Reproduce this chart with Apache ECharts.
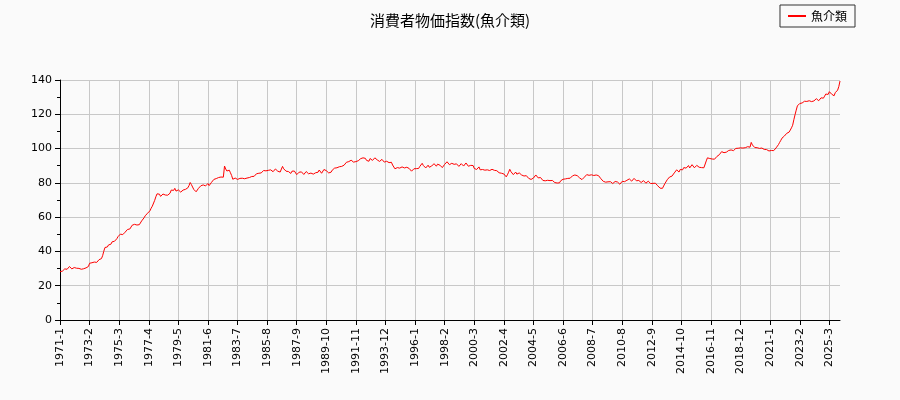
<!DOCTYPE html>
<html><head><meta charset="utf-8">
<script src="https://cdn.jsdelivr.net/npm/echarts@6/dist/echarts.min.js"></script>
<style>html,body{margin:0;background:#fafafa}#c{width:900px;height:400px}</style>
</head><body><div id="c"></div>
<script>
const startYear = 1971;
const yearlyValues = [
[28.2,27.6,28.5,29.1,29.8,30.4,29.6,30.1,31.2,30.3,29.8,30.0],
[30.6,29.8,30.2,29.7,30.1,29.9,29.6,30.0,29.9,30.1,30.4,30.2],
[31.2,33.1,32.6,33.4,33.0,33.8,34.1,33.6,34.5,35.2,36.0,35.8],
[37.5,40.1,42.3,43.0,42.6,43.8,44.5,44.2,45.6,46.3,45.9,47.0],
[47.4,48.6,49.3,50.1,49.6,49.8,50.4,51.2,51.9,52.8,53.4,53.1],
[54.0,55.3,54.6,55.8,56.2,55.4,55.9,55.6,56.1,57.8,58.9,59.6],
[60.8,61.4,62.3,63.0,63.7,65.2,66.4,67.5,69.8,71.9,73.6,72.8],
[73.4,72.1,72.8,73.5,73.0,72.9,73.2,72.8,73.4,74.0,75.8,76.9],
[75.6,76.8,75.2,74.3,75.9,76.4,74.6,75.1,75.8,74.9,76.2,75.5],
[77.1,78.4,80.2,79.0,77.6,76.2,75.4,74.8,75.9,76.8,77.5,78.3],
[77.6,78.8,79.1,78.2,78.9,79.6,78.4,78.9,80.3,81.2,82.0,81.6],
[82.5,82.0,83.1,82.6,83.4,82.9,83.3,89.8,88.1,86.9,86.2,87.4],
[85.9,84.3,82.1,81.6,82.8,82.3,82.0,81.5,82.6,83.1,82.7,83.0],
[82.4,83.2,82.8,83.9,83.1,82.6,83.7,84.2,83.8,84.9,85.3,84.6],
[85.6,86.3,85.8,86.9,87.2,86.4,87.0,86.7,87.3,86.8,87.6,87.1],
[86.5,87.4,88.1,87.2,86.8,87.5,86.3,86.9,89.6,88.2,87.4,86.8],
[87.3,86.6,86.1,85.5,86.8,87.4,86.9,85.9,84.8,85.6,86.2,87.0],
[86.4,85.7,84.9,85.8,86.6,86.1,85.3,84.6,85.7,86.4,85.1,84.8],
[85.9,86.7,86.2,87.5,86.9,85.6,86.3,87.8,88.2,87.1,86.4,85.8],
[86.9,86.2,87.4,88.1,88.6,87.9,88.8,88.3,89.4,90.2,89.6,89.1],
[90.3,91.2,92.0,91.5,92.4,92.9,93.2,92.6,92.1,91.8,92.4,91.6],
[92.9,93.7,94.1,93.3,94.6,95.2,94.3,93.1,93.8,92.6,94.2,93.5],
[93.1,94.0,94.6,94.2,93.4,93.0,92.5,92.8,93.7,92.9,92.1,91.4],
[92.6,93.3,91.8,91.2,92.0,90.4,89.7,88.2,87.5,88.9,89.4,88.6],
[88.1,89.3,89.9,88.7,88.2,89.1,89.5,88.4,87.9,86.8,87.4,88.2],
[87.6,88.3,89.0,88.4,89.6,90.2,91.4,90.1,89.3,88.7,89.5,90.3],
[89.1,88.6,89.8,90.6,91.2,90.4,89.7,90.9,91.5,90.3,89.4,88.9],
[89.7,90.8,91.6,92.3,91.2,90.6,89.9,91.4,92.1,90.8,90.2,91.1],
[90.4,89.6,90.3,91.2,90.7,89.8,90.9,91.6,90.5,89.7,90.8,90.2],
[89.6,90.1,88.4,88.9,87.8,88.6,89.3,87.6,86.9,87.8,88.5,87.4],
[86.8,87.6,88.3,87.2,86.5,87.9,88.6,87.3,86.4,87.1,86.6,85.9],
[84.9,85.6,86.4,85.2,84.1,83.5,84.7,86.2,87.9,86.5,85.4,84.8],
[85.6,86.3,85.1,84.4,85.8,85.2,84.6,85.4,84.0,83.6,84.2,83.4],
[82.6,83.4,82.0,81.6,82.8,83.9,84.6,83.5,82.9,82.3,83.1,82.2],
[81.4,80.6,81.2,80.3,81.5,82.0,81.3,80.7,81.4,80.9,80.2,80.5],
[79.9,80.3,80.0,81.2,80.6,82.1,82.9,82.3,83.4,82.6,83.1,82.7],
[83.5,84.1,83.2,84.6,85.3,84.2,83.6,82.9,82.4,81.9,82.6,83.3],
[83.9,84.8,85.5,84.4,83.8,84.7,85.2,84.3,83.7,84.6,85.1,84.2],
[83.6,82.4,81.8,80.9,81.6,80.4,79.8,80.6,81.3,80.7,80.1,79.6],
[80.2,80.8,81.3,80.5,79.6,79.2,80.1,80.9,81.4,80.7,80.2,81.5],
[81.9,82.3,81.6,81.0,82.1,82.6,81.8,81.2,80.6,81.4,80.9,80.2],
[80.7,81.3,80.4,79.8,80.6,81.0,80.3,79.6,80.2,79.7,79.2,79.8],
[78.9,78.3,77.4,76.9,77.6,76.8,77.9,79.5,80.4,81.8,82.6,83.4],
[82.8,83.9,84.6,85.8,86.5,87.6,87.1,86.3,87.8,88.4,87.6,88.9],
[89.8,88.6,89.3,90.1,88.7,89.4,90.6,89.9,88.8,89.5,90.2,89.4],
[89.1,88.6,88.9,89.4,88.8,89.6,92.8,94.6,93.7,94.2,93.5,93.9],
[94.3,93.8,94.6,95.4,94.9,96.4,97.5,98.2,97.1,97.6,98.3,97.9],
[98.5,98.9,98.4,99.2,99.7,98.8,99.4,100.1,99.6,100.2,101.2,100.4],
[100.6,100.3,100.9,100.5,100.7,101.1,100.4,100.8,103.6,102.1,101.3,100.6],
[100.2,100.5,99.8,100.1,99.6,100.3,99.9,99.5,100.2,99.4,99.1,98.6],
[98.5,98.9,98.3,98.8,99.6,100.4,101.2,102.3,103.6,104.8,106.1,106.8],
[107.3,108.2,108.9,109.3,109.6,110.8,112.1,113.6,116.8,119.7,122.4,124.9],
[125.4,126.3,125.8,126.6,126.9,127.6,128.2,127.5,126.8,127.9,128.6,127.4],
[128.3,127.8,128.6,129.1,128.4,127.9,128.9,129.6,128.8,129.4,130.6,131.8],
[132.4,131.6,133.2,132.5,131.7,131.2,130.8,132.6,133.4,134.1,136.2,139.4]
];
const categories = [];
const values = [];
yearlyValues.forEach((row, i) => row.forEach((v, m) => {
  categories.push((startYear + i) + '-' + (m + 1));
  values.push(v);
}));
const chart = echarts.init(document.getElementById('c'));
chart.setOption({
  backgroundColor: '#fafafa',
  animation: false,
  title: {text: '消費者物価指数(魚介類)', left: 'center', top: 8,
    textStyle: {fontSize: 15, fontWeight: 'normal', color: '#000', fontFamily: 'Noto Sans CJK JP'}},
  legend: {right: 45, top: 5, itemWidth: 18, itemHeight: 2, borderColor: '#333', borderWidth: 1, borderRadius: 0,
    padding: [5, 8], textStyle: {fontSize: 12, color: '#000', fontFamily: 'Noto Sans CJK JP'},
    data: [{name: '魚介類', icon: 'rect'}]},
  grid: {left: 60, right: 60, top: 80, bottom: 80},
  xAxis: {type: 'category', data: categories, boundaryGap: false,
    axisLine: {lineStyle: {color: '#000'}},
    axisTick: {interval: 24, lineStyle: {color: '#000'}},
    axisLabel: {interval: 24, rotate: 90, color: '#000', fontSize: 11, fontFamily: 'DejaVu Sans'},
    splitLine: {show: true, interval: 24, lineStyle: {color: '#c8c8c8'}}},
  yAxis: {type: 'value', min: 0, max: 140, interval: 20,
    axisLine: {show: true, lineStyle: {color: '#000'}},
    axisTick: {show: true, lineStyle: {color: '#000'}},
    minorTick: {show: true, splitNumber: 2, lineStyle: {color: '#000'}},
    axisLabel: {color: '#000', fontSize: 11, fontFamily: 'DejaVu Sans'},
    splitLine: {lineStyle: {color: '#c8c8c8'}}},
  series: [{name: '魚介類', type: 'line', data: values, showSymbol: false,
    lineStyle: {color: '#ff0000', width: 1}, itemStyle: {color: '#ff0000'}}]
});
</script></body></html>
